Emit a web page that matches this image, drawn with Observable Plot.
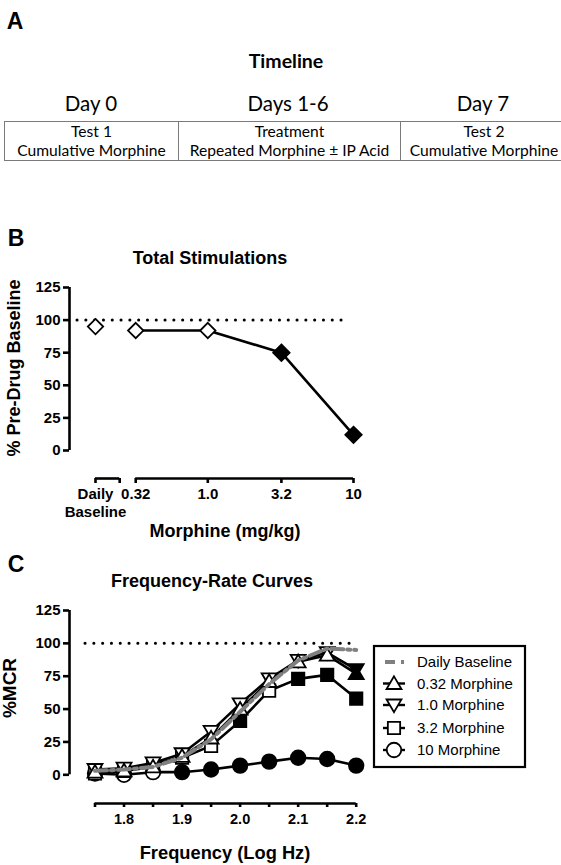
<!DOCTYPE html>
<html><head><meta charset="utf-8">
<script src="https://cdn.jsdelivr.net/npm/d3@7"></script>
<script src="https://cdn.jsdelivr.net/npm/@observablehq/plot@0.6"></script>
<style>
body{margin:0;background:#fff;}
#page{position:relative;width:561px;height:865px;overflow:hidden;background:#fff;font-family:"Liberation Sans",Arial,sans-serif;color:#000;}
.t{position:absolute;white-space:nowrap;line-height:1;transform:translate(-50%,-50%);}
.b{font-weight:bold;}
.lato{font-family:Lato,"Open Sans",sans-serif;}
.rot{transform:translate(-50%,-50%) rotate(-90deg);}
#tl{position:absolute;left:4px;top:121px;border-collapse:collapse;font-family:Lato,"Open Sans",sans-serif;font-size:15.6px;table-layout:fixed;}
#tl td{border:1.5px solid #7a7a7a;text-align:center;padding:0;height:38px;line-height:19px;white-space:nowrap;overflow:hidden;}
.plotbox{position:absolute;left:0;}
</style></head>
<body><div id="page"></div>
<script>
// ---------- Panel A: timeline ----------
const timelineDays = ["Day 0", "Days 1-6", "Day 7"];
const timelineTests = ["Test 1", "Treatment", "Test 2"];
const timelineDetails = ["Cumulative Morphine", "Repeated Morphine ± IP Acid", "Cumulative Morphine"];

// ---------- Panel B: total stimulations ----------
const bLabels = ["Daily\nBaseline", "0.32", "1.0", "3.2", "10"];
const bDoses = [null, 0.32, 1.0, 3.2, 10];
const bValues = [95, 92, 92, 75, 12];
const bFilled = [false, false, false, true, true];

// ---------- Panel C: frequency-rate curves ----------
const cFreq = [1.75, 1.80, 1.85, 1.90, 1.95, 2.00, 2.05, 2.10, 2.15, 2.20];
const cTickLabels = ["1.8", "1.9", "2.0", "2.1", "2.2"];
const cSeriesNames = ["Daily Baseline", "0.32 Morphine", "1.0 Morphine", "3.2 Morphine", "10 Morphine"];
const cBaseline = [3, 4, 6, 13, 27, 48, 69, 87, 96, 95];
const cM032 = [2, 3, 6, 14, 28, 50, 71, 86, 91, 77];
const cM1   = [4, 5, 9, 16, 33, 54, 73, 87, 93, 80];
const cM32  = [1, 3, 8, 13, 22, 41, 64, 73, 76, 58];
const cM10  = [1, 0, 2, 2, 4, 7, 10, 13, 12, 7];
const cM032Filled = [0, 0, 0, 0, 0, 0, 0, 0, 0, 1];
const cM1Filled   = [0, 0, 0, 0, 0, 0, 0, 0, 0, 1];
const cM32Filled  = [0, 0, 0, 0, 0, 1, 0, 1, 1, 1];
const cM10Filled  = [0, 0, 0, 1, 1, 1, 1, 1, 1, 1];
const yTicks = [0, 25, 50, 75, 100, 125];

const page = document.getElementById("page");
function addText(txt, x, y, cls, style) {
  const d = document.createElement("div");
  d.className = "t " + (cls || "");
  d.textContent = txt;
  d.style.left = x + "px"; d.style.top = y + "px";
  Object.assign(d.style, style || {});
  page.appendChild(d);
  return d;
}

// Panel A
addText("A", 15, 21, "b", {fontSize: "23px"});
addText("Timeline", 286, 61, "b lato", {fontSize: "19.5px"});
const colCenters = [91, 288, 483];
const colWidths = [173, 221, 166];
timelineDays.forEach((d, i) => addText(d, colCenters[i], 103, "lato", {fontSize: "20.5px"}));
const tbl = document.createElement("table");
tbl.id = "tl";
const tr = document.createElement("tr");
timelineTests.forEach((t, i) => {
  const td = document.createElement("td");
  td.style.width = colWidths[i] + "px";
  td.appendChild(document.createTextNode(t));
  td.appendChild(document.createElement("br"));
  td.appendChild(document.createTextNode(timelineDetails[i]));
  tr.appendChild(td);
});
tbl.appendChild(tr);
tbl.style.width = colWidths.reduce((a, b) => a + b, 0) + "px";
page.appendChild(tbl);

// custom symbols
const triUp = {draw(c, s) { const r = Math.sqrt(s / Math.PI); const w = r * 1.15;
  c.moveTo(0, -r * 1.1); c.lineTo(w, r * 0.85); c.lineTo(-w, r * 0.85); c.closePath(); }};
const triDown = {draw(c, s) { const r = Math.sqrt(s / Math.PI); const w = r * 1.15;
  c.moveTo(0, r * 1.1); c.lineTo(w, -r * 0.85); c.lineTo(-w, -r * 0.85); c.closePath(); }};
const sq = {draw(c, s) { const r = Math.sqrt(s / Math.PI) * 0.95;
  c.moveTo(-r, -r); c.lineTo(r, -r); c.lineTo(r, r); c.lineTo(-r, r); c.closePath(); }};
const circ = {draw(c, s) { const r = Math.sqrt(s / Math.PI) * 1.12;
  c.moveTo(r, 0); c.arc(0, 0, r, 0, 2 * Math.PI); }};
const dia = {draw(c, s) { const r = Math.sqrt(s / Math.PI) * 1.3;
  c.moveTo(0, -r); c.lineTo(r, 0); c.lineTo(0, r); c.lineTo(-r, 0); c.closePath(); }};

const fontFam = "'Liberation Sans', Arial, sans-serif";

// ---------- Panel B plot ----------
addText("B", 16, 238, "b", {fontSize: "23px"});
addText("Total Stimulations", 210, 258, "b", {fontSize: "18px"});
addText("% Pre-Drug Baseline", 14, 368, "b rot", {fontSize: "18px"});
addText("Morphine (mg/kg)", 225, 531, "b", {fontSize: "18px"});

const baseGap = 0.276;      // gap (log units) between baseline slot and first dose
const baseSegLen = 0.166;   // length of the baseline axis segment
const firstPos = Math.log10(bDoses[1]);
const basePos = firstPos - baseGap;
const bRows = bLabels.map((label, i) => ({
  label, value: bValues[i], filled: bFilled[i],
  pos: bDoses[i] == null ? basePos : Math.log10(bDoses[i]), drug: bDoses[i] != null
}));
const bDrug = bRows.filter(d => d.drug);
const bSegments = [
  {x1: basePos, x2: basePos + baseSegLen},
  {x1: firstPos, x2: Math.log10(bDoses[bDoses.length - 1])}
];
const bTicks = [basePos, basePos + baseSegLen, ...bDrug.map(d => d.pos)];
const bFmt = v => { const r = bRows.find(d => Math.abs(d.pos - v) < 1e-9); return r ? r.label : ""; };

const plotB = Plot.plot({
  width: 370, height: 275,
  marginLeft: 69, marginRight: 17, marginTop: 17, marginBottom: 67,
  x: {type: "linear", domain: [basePos, 1], insetLeft: 26},
  y: {domain: [0, 125], insetBottom: 28},
  style: {fontFamily: fontFam, fontWeight: "bold", fontSize: "15px", overflow: "visible", background: "transparent"},
  marks: [
    Plot.ruleY([100], {insetLeft: 8, insetRight: 9, strokeDasharray: "0.1 8.7", strokeLinecap: "round", strokeWidth: 3}),
    Plot.ruleX([basePos], {y1: 0, y2: 125, dx: -26, strokeWidth: 2.6}),
    Plot.axisY({ticks: yTicks, tickSize: 6, tickPadding: 3, fontSize: 15, fontWeight: "bold", strokeWidth: 2.6, label: null}),
    Plot.ruleY(bSegments, {x1: "x1", x2: "x2", y: 0, dy: 28, strokeWidth: 2.6}),
    Plot.axisX({ticks: bTicks, tickFormat: bFmt, tickSize: 5, tickPadding: 2.5, fontSize: 15, fontWeight: "bold", strokeWidth: 2.6, label: null, lineHeight: 1.2}),
    Plot.line(bDrug, {x: "pos", y: "value", strokeWidth: 2.6}),
    Plot.dot(bRows.filter(d => !d.filled), {x: "pos", y: "value", symbol: dia, r: 5.9, fill: "white", stroke: "black", strokeWidth: 1.8}),
    Plot.dot(bRows.filter(d => d.filled), {x: "pos", y: "value", symbol: dia, r: 6.3, fill: "black", stroke: "black", strokeWidth: 1.8})
  ]
});
const boxB = document.createElement("div");
boxB.className = "plotbox"; boxB.style.top = "270px";
boxB.appendChild(plotB); page.appendChild(boxB);

// ---------- Panel C plot ----------
addText("C", 16, 564, "b", {fontSize: "23px"});
addText("Frequency-Rate Curves", 212, 581, "b", {fontSize: "18px"});
addText("%MCR", 9, 688, "b rot", {fontSize: "19px"});
addText("Frequency (Log Hz)", 225, 853, "b", {fontSize: "18.3px"});

const cSeries = [
  {name: cSeriesNames[4], values: cM10, filled: cM10Filled, symbol: circ},
  {name: cSeriesNames[3], values: cM32, filled: cM32Filled, symbol: sq},
  {name: cSeriesNames[2], values: cM1, filled: cM1Filled, symbol: triDown},
  {name: cSeriesNames[1], values: cM032, filled: cM032Filled, symbol: triUp}
];
const baseRows = cFreq.map((f, i) => ({f, v: cBaseline[i]}));
const seriesMarks = [];
cSeries.forEach(s => {
  const rows = cFreq.map((f, i) => ({f, v: s.values[i], filled: !!s.filled[i]}));
  seriesMarks.push(Plot.line(rows, {x: "f", y: "v", strokeWidth: 2.6}));
  seriesMarks.push(Plot.dot(rows.filter(d => !d.filled), {x: "f", y: "v", symbol: s.symbol, r: 6.5, fill: "white", stroke: "black", strokeWidth: 1.8}));
  seriesMarks.push(Plot.dot(rows.filter(d => d.filled), {x: "f", y: "v", symbol: s.symbol, r: 6.5, fill: "black", stroke: "black", strokeWidth: 1.8}));
});
const isLabeled = v => Math.abs(v * 10 - Math.round(v * 10)) < 1e-6 && cTickLabels.includes((Math.round(v * 10) / 10).toFixed(1));

const plotC = Plot.plot({
  width: 370, height: 240,
  marginLeft: 69, marginRight: 14.3, marginTop: 10, marginBottom: 37,
  x: {type: "linear", domain: [cFreq[0], cFreq[cFreq.length - 1]], insetLeft: 25.5},
  y: {domain: [0, 125], insetBottom: 28.7},
  style: {fontFamily: fontFam, fontWeight: "bold", fontSize: "15px", overflow: "visible", background: "transparent"},
  marks: [
    Plot.ruleY([100], {insetLeft: 16, insetRight: 3, strokeDasharray: "0.1 8.7", strokeLinecap: "round", strokeWidth: 3}),
    Plot.ruleX([cFreq[0]], {y1: 0, y2: 125, dx: -25.5, strokeWidth: 2.6}),
    Plot.axisY({ticks: yTicks, tickSize: 6, tickPadding: 3, fontSize: 15, fontWeight: "bold", strokeWidth: 2.6, label: null}),
    Plot.ruleY([0], {x1: cFreq[0], x2: cFreq[cFreq.length - 1], dy: 28.7, strokeWidth: 2.6}),
    Plot.axisX({ticks: cFreq, tickFormat: v => isLabeled(v) ? v.toFixed(1) : "", tickSize: 4, tickPadding: 6, fontSize: 14.5, fontWeight: "bold", strokeWidth: 2.6, label: null}),
    ...seriesMarks,
    Plot.line(baseRows, {x: "f", y: "v", stroke: "#808080", strokeWidth: 4, strokeDasharray: "12 4 3 4"})
  ]
});
const boxC = document.createElement("div");
boxC.className = "plotbox"; boxC.style.top = "600px";
boxC.appendChild(plotC); page.appendChild(boxC);

// ---------- Legend for panel C ----------
const legendItems = [
  {name: cSeriesNames[0], symbol: null},
  {name: cSeriesNames[1], symbol: triUp},
  {name: cSeriesNames[2], symbol: triDown},
  {name: cSeriesNames[3], symbol: sq},
  {name: cSeriesNames[4], symbol: circ}
];
const lg = d3.select(page).append("svg")
  .attr("width", 156).attr("height", 126)
  .style("position", "absolute").style("left", "372px").style("top", "644px");
lg.append("rect").attr("x", 2).attr("y", 2).attr("width", 151).attr("height", 121)
  .attr("fill", "white").attr("stroke", "black").attr("stroke-width", 2.2);
const ly = [18, 39.5, 61, 84, 106];
legendItems.forEach((it, i) => {
  const g = lg.append("g").attr("transform", `translate(0,${ly[i]})`);
  if (it.symbol == null) {
    g.append("line").attr("x1", 13).attr("x2", 34).attr("y1", 0).attr("y2", 0)
      .attr("stroke", "#808080").attr("stroke-width", 4).attr("stroke-dasharray", "10 6 3 10");
  } else {
    g.append("line").attr("x1", 11).attr("x2", 33).attr("stroke", "black").attr("stroke-width", 2.4);
    g.append("path").attr("transform", "translate(22,0)")
      .attr("d", d3.symbol(it.symbol, Math.PI * 42)())
      .attr("fill", "white").attr("stroke", "black").attr("stroke-width", 1.8);
  }
  g.append("text").attr("x", 45).attr("y", 0).attr("dy", "0.36em")
    .attr("font-family", fontFam).attr("font-size", 15).text(it.name);
});
</script>
</body></html>
